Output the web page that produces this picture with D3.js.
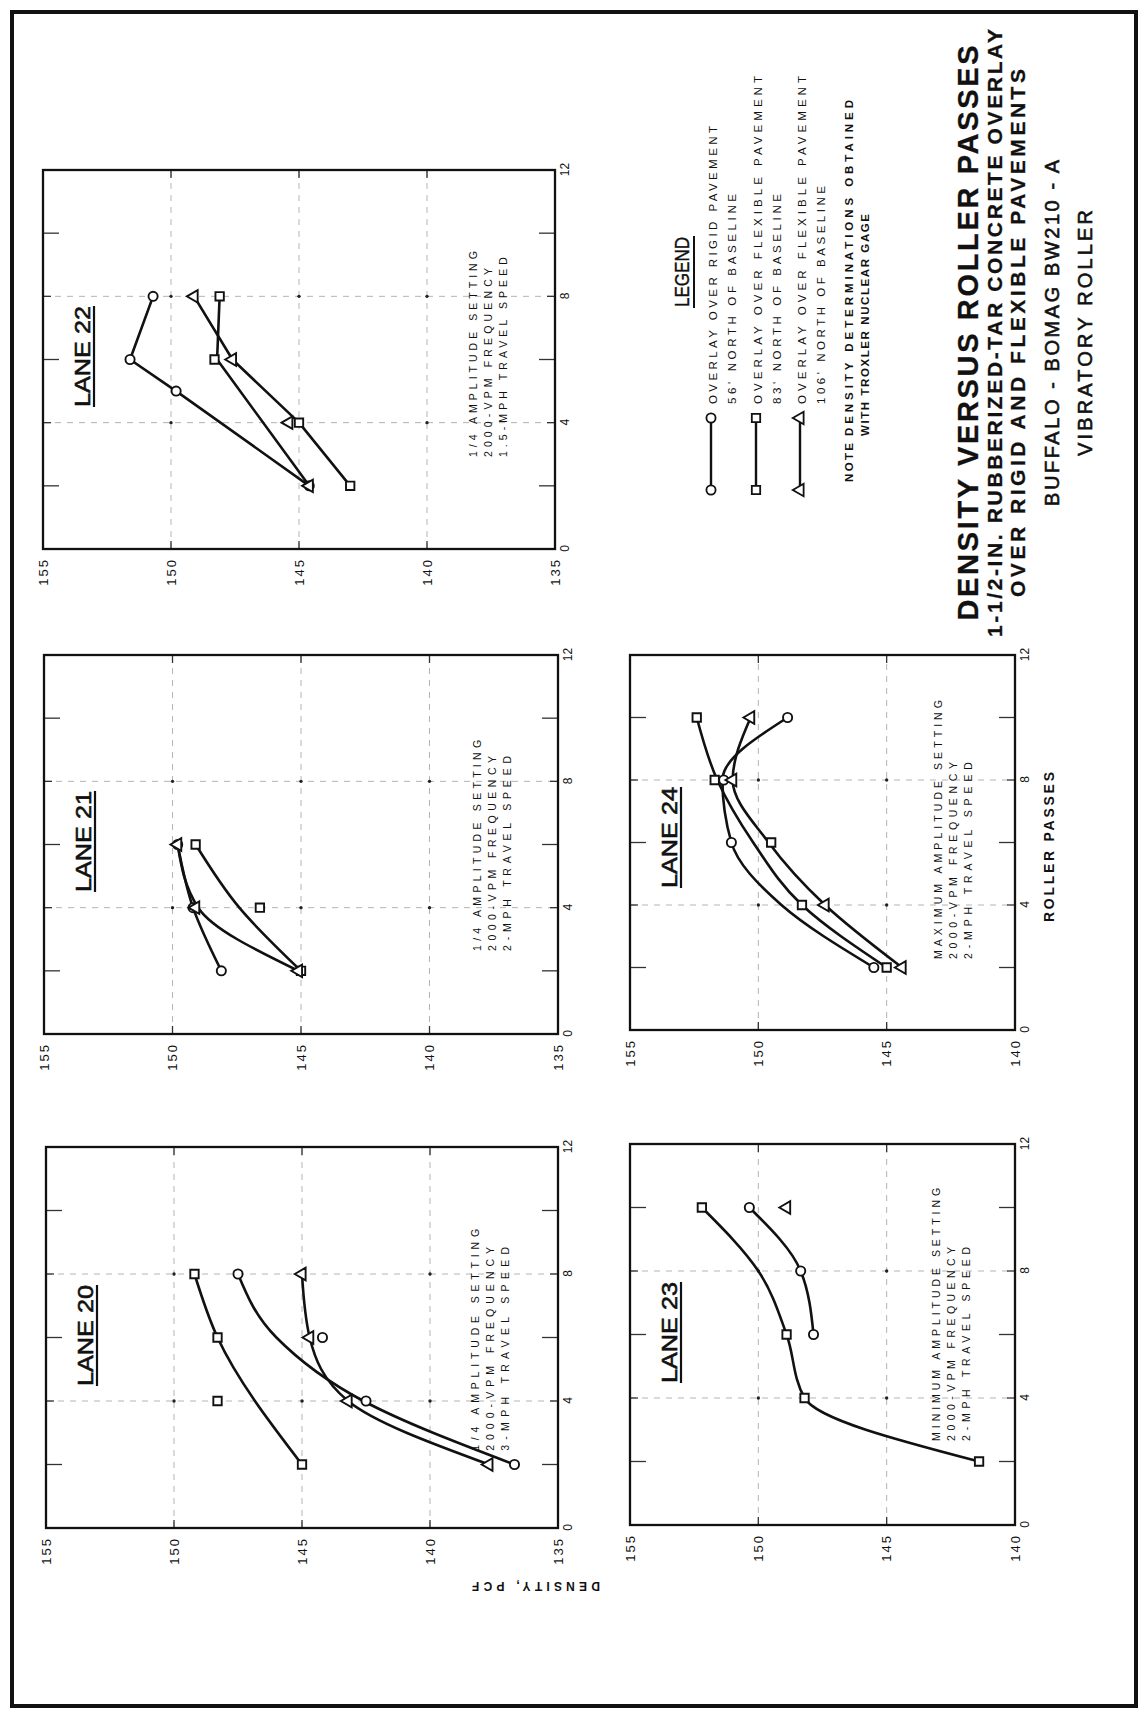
<!DOCTYPE html>
<html>
<head>
<meta charset="utf-8">
<script src="https://cdn.jsdelivr.net/npm/d3@7"></script>
<style>
  body { margin: 0; background: #fff; }
  svg { display: block; }
  text { font-family: "Liberation Sans", Arial, sans-serif; fill: #111; }
</style>
</head>
<body>
<div id="chart"></div>
<script>
var W = 1148, H = 1720;

// ---- data (roller passes, density pcf) ----
var passTicks = [0, 4, 8, 12];
var minorPasses = [2, 6, 10];
var gridPasses = [4, 8];
var densTicksTop = [155, 150, 145, 140, 135];
var densTicksBottom = [155, 150, 145, 140];

var lane20Rigid = [[2, 136.7], [4, 142.5], [6, 144.2], [8, 147.5]];
var lane20Flex83 = [[2, 145.0], [4, 148.3], [6, 148.3], [8, 149.2]];
var lane20Flex106 = [[2, 137.7], [4, 143.2], [6, 144.7], [8, 145.0]];
var lane20Curves = [
  [[2, 136.7], [4, 142.6], [6, 146.0], [8, 147.5]],
  [[2, 137.7], [4, 143.2], [6, 144.7], [8, 145.0]],
  [[2, 145.0], [6, 148.3], [8, 149.2]]
];

var lane21Rigid = [[2, 148.1], [4, 149.2], [6, 149.8]];
var lane21Flex83 = [[2, 145.0], [4, 146.6], [6, 149.1]];
var lane21Flex106 = [[2, 145.1], [4, 149.1], [6, 149.8]];
var lane21Curves = [
  [[2, 148.1], [4, 149.2], [6, 149.8]],
  [[2, 145.1], [4, 149.0], [6, 149.8]],
  [[2, 145.0], [4, 147.4], [6, 149.1]]
];

var lane22Rigid = [[2, 144.6], [5, 149.8], [6, 151.6], [8, 150.7]];
var lane22Flex83 = [[2, 143.0], [4, 145.0], [6, 148.3], [8, 148.1]];
var lane22Flex106 = [[2, 144.6], [4, 145.4], [6, 147.6], [8, 149.1]];
var lane22Curves = [
  [[2, 144.6], [5, 149.8], [6, 151.6], [8, 150.7]],
  [[2, 144.6], [6, 148.2], [8, 148.1]],
  [[2, 143.0], [4, 145.0], [6, 147.6], [8, 149.1]]
];

var lane23Rigid = [[6, 147.85], [8, 148.35], [10, 150.35]];
var lane23Flex83 = [[2, 141.4], [4, 148.2], [6, 148.9], [10, 152.2]];
var lane23Flex106 = [[10, 148.9]];
var lane23Curves = [
  [[6, 147.85], [8, 148.35], [10, 150.35]],
  [[2, 141.4], [4, 148.2], [6, 148.9], [8, 150.0], [10, 152.2]]
];

var lane24Rigid = [[2, 145.5], [6, 151.05], [8, 151.35], [10, 148.86]];
var lane24Flex83 = [[2, 145.0], [4, 148.3], [6, 149.5], [8, 151.7], [10, 152.4]];
var lane24Flex106 = [[2, 144.4], [4, 147.4], [8, 151.0], [10, 150.3]];
var lane24Curves = [
  [[2, 145.5], [4, 149.1], [6, 151.05], [8, 151.4], [10, 148.86]],
  [[2, 145.0], [4, 148.3], [6, 150.2], [8, 151.6], [10, 152.4]],
  [[2, 144.4], [4, 147.4], [6, 149.6], [8, 151.0], [10, 150.3]]
];

var lane20Notes = ["1/4 AMPLITUDE SETTING", "2000-VPM FREQUENCY", "3-MPH TRAVEL SPEED"];
var lane21Notes = ["1/4 AMPLITUDE SETTING", "2000-VPM FREQUENCY", "2-MPH TRAVEL SPEED"];
var lane22Notes = ["1/4 AMPLITUDE SETTING", "2000-VPM FREQUENCY", "1.5-MPH TRAVEL SPEED"];
var lane23Notes = ["MINIMUM AMPLITUDE SETTING", "2000-VPM FREQUENCY", "2-MPH TRAVEL SPEED"];
var lane24Notes = ["MAXIMUM AMPLITUDE SETTING", "2000-VPM FREQUENCY", "2-MPH TRAVEL SPEED"];

// panel boxes are in landscape coords (page is drawn sideways, then turned)
var panels = [
  {name: "LANE 20", X: [192, 573], Y: [46, 558], ticks: densTicksTop, rigid: lane20Rigid, f83: lane20Flex83, f106: lane20Flex106, curves: lane20Curves, smooth: true, notes: lane20Notes, noteAt: [2.43, 138.1], noteLen: [222, 204, 204]},
  {name: "LANE 21", X: [686, 1065], Y: [44, 558], ticks: densTicksTop, rigid: lane21Rigid, f83: lane21Flex83, f106: lane21Flex106, curves: lane21Curves, smooth: true, notes: lane21Notes, noteAt: [2.63, 138.0], noteLen: [211, 195, 195]},
  {name: "LANE 22", X: [1171, 1550], Y: [43, 555], ticks: densTicksTop, rigid: lane22Rigid, f83: lane22Flex83, f106: lane22Flex106, curves: lane22Curves, smooth: false, notes: lane22Notes, noteAt: [2.91, 138.05], noteLen: [206, 189, 200]},
  {name: "LANE 23", X: [195, 576], Y: [630, 1015], ticks: densTicksBottom, rigid: lane23Rigid, f83: lane23Flex83, f106: lane23Flex106, curves: lane23Curves, smooth: true, notes: lane23Notes, noteAt: [2.65, 142.92], noteLen: [253, 194, 194]},
  {name: "LANE 24", X: [690, 1065], Y: [630, 1015], ticks: densTicksBottom, rigid: lane24Rigid, f83: lane24Flex83, f106: lane24Flex106, curves: lane24Curves, smooth: true, notes: lane24Notes, noteAt: [2.27, 142.85], noteLen: [259, 197, 197]}
];

var svg = d3.select("#chart").append("svg")
  .attr("width", W)
  .attr("height", H);

svg.append("rect").attr("width", W).attr("height", H).attr("fill", "#fff");
svg.append("rect")
  .attr("x", 12).attr("y", 12)
  .attr("width", 1124).attr("height", 1694)
  .attr("fill", "none")
  .attr("stroke", "#111")
  .attr("stroke-width", 4);

// landscape page: (X, Y) -> screen (Y, H - X)
var page = svg.append("g").attr("transform", "translate(0," + H + ") rotate(-90)");

var symCircle = d3.symbol().type(d3.symbolCircle).size(66);
var symSquare = d3.symbol().type(d3.symbolSquare).size(70);
var symTri = d3.symbol().type(d3.symbolTriangle).size(68);

function drawMarks(g, pts, sym, x, y) {
  g.selectAll(null)
    .data(pts)
    .enter()
    .append("path")
    .attr("d", sym)
    .attr("transform", function (d) { return "translate(" + x(d[0]) + "," + y(d[1]) + ")"; })
    .attr("fill", "#fff")
    .attr("stroke", "#111")
    .attr("stroke-width", 1.9);
}

panels.forEach(function (p) {
  var dmin = p.ticks[p.ticks.length - 1];
  var x = d3.scaleLinear().domain([0, 12]).range(p.X);
  var y = d3.scaleLinear().domain([155, dmin]).range(p.Y);
  var g = page.append("g");
  var innerD = p.ticks.slice(1, -1);

  // faint dashed grid
  g.selectAll(null).data(innerD).enter().append("line")
    .attr("x1", p.X[0]).attr("x2", p.X[1])
    .attr("y1", function (d) { return y(d); }).attr("y2", function (d) { return y(d); })
    .attr("stroke", "#b4b4b4").attr("stroke-width", 1).attr("stroke-dasharray", "6,6");
  g.selectAll(null).data(gridPasses).enter().append("line")
    .attr("x1", function (d) { return x(d); }).attr("x2", function (d) { return x(d); })
    .attr("y1", p.Y[0]).attr("y2", p.Y[1])
    .attr("stroke", "#b4b4b4").attr("stroke-width", 1).attr("stroke-dasharray", "6,6");

  // grid crossings
  var cross = [];
  gridPasses.forEach(function (a) { innerD.forEach(function (b) { cross.push([a, b]); }); });
  g.selectAll(null).data(cross).enter().append("circle")
    .attr("cx", function (d) { return x(d[0]); })
    .attr("cy", function (d) { return y(d[1]); })
    .attr("r", 1.7).attr("fill", "#222");

  // solid stubs at the frame ends of grid lines and minor ticks
  var stubs = [];
  innerD.forEach(function (d) {
    stubs.push([p.X[0], y(d), p.X[0] + 8, y(d)]);
    stubs.push([p.X[1] - 8, y(d), p.X[1], y(d)]);
  });
  gridPasses.forEach(function (d) {
    stubs.push([x(d), p.Y[0], x(d), p.Y[0] + 8]);
    stubs.push([x(d), p.Y[1] - 8, x(d), p.Y[1]]);
  });
  minorPasses.forEach(function (d) {
    stubs.push([x(d), p.Y[0], x(d), p.Y[0] + 16]);
    stubs.push([x(d), p.Y[1] - 16, x(d), p.Y[1]]);
  });
  g.selectAll(null).data(stubs).enter().append("line")
    .attr("x1", function (d) { return d[0]; }).attr("y1", function (d) { return d[1]; })
    .attr("x2", function (d) { return d[2]; }).attr("y2", function (d) { return d[3]; })
    .attr("stroke", "#333").attr("stroke-width", 1.3);

  // frame
  g.append("rect")
    .attr("x", p.X[0]).attr("y", p.Y[0])
    .attr("width", p.X[1] - p.X[0]).attr("height", p.Y[1] - p.Y[0])
    .attr("fill", "none").attr("stroke", "#111").attr("stroke-width", 2.3);

  // axes
  var ax = g.append("g")
    .attr("transform", "translate(0," + p.Y[1] + ")")
    .call(d3.axisBottom(x).tickValues(passTicks).tickSize(0).tickPadding(5));
  ax.select(".domain").remove();
  ax.selectAll("text").attr("font-family", "Liberation Sans, Arial, sans-serif")
    .attr("font-size", 12).attr("fill", "#222");

  var ay = g.append("g")
    .attr("transform", "translate(" + p.X[0] + ",0)")
    .call(d3.axisLeft(y).tickValues(p.ticks).tickSize(0).tickPadding(9));
  ay.select(".domain").remove();
  ay.selectAll("text").attr("font-family", "Liberation Sans, Arial, sans-serif")
    .attr("font-size", 13).attr("letter-spacing", 2).attr("fill", "#222");

  // curves then points
  var line = d3.line()
    .x(function (d) { return x(d[0]); })
    .y(function (d) { return y(d[1]); })
    .curve(p.smooth ? d3.curveMonotoneX : d3.curveLinear);
  g.selectAll(null).data(p.curves).enter().append("path")
    .attr("d", line)
    .attr("fill", "none").attr("stroke", "#111").attr("stroke-width", 2.6)
    .attr("stroke-linejoin", "round");

  drawMarks(g, p.rigid, symCircle, x, y);
  drawMarks(g, p.f83, symSquare, x, y);
  drawMarks(g, p.f106, symTri, x, y);

  // lane label
  var lx = p.X[0] + 142, ly = p.Y[0] + 47;
  g.append("text")
    .attr("x", lx).attr("y", ly)
    .attr("font-size", 22)
    .attr("stroke", "#111").attr("stroke-width", 0.6)
    .attr("textLength", 101).attr("lengthAdjust", "spacingAndGlyphs")
    .text(p.name);
  g.append("line")
    .attr("x1", lx).attr("x2", lx + 101)
    .attr("y1", ly + 4).attr("y2", ly + 4)
    .attr("stroke", "#111").attr("stroke-width", 2.2);

  // test conditions
  g.selectAll(null).data(p.notes).enter().append("text")
    .attr("x", x(p.noteAt[0]))
    .attr("y", function (d, i) { return y(p.noteAt[1]) + i * 15; })
    .attr("font-size", 10.5)
    .attr("fill", "#444")
    .attr("textLength", function (d, i) { return p.noteLen[i]; })
    .attr("lengthAdjust", "spacing")
    .text(function (d) { return d; });
});

// shared axis titles
page.append("text")
  .attr("transform", "translate(138,536) rotate(-90)")
  .attr("text-anchor", "middle")
  .attr("font-size", 12).attr("font-weight", "bold")
  .attr("textLength", 128).attr("lengthAdjust", "spacing")
  .text("DENSITY, PCF");

page.append("text")
  .attr("x", 873).attr("y", 1054)
  .attr("text-anchor", "middle")
  .attr("font-size", 14).attr("font-weight", "bold")
  .attr("textLength", 150).attr("lengthAdjust", "spacing")
  .text("ROLLER PASSES");

// legend
var legendItems = [
  {sym: symCircle, lines: ["OVERLAY OVER RIGID PAVEMENT", "56' NORTH OF BASELINE"], len: [278, 210]},
  {sym: symSquare, lines: ["OVERLAY OVER FLEXIBLE PAVEMENT", "83' NORTH OF BASELINE"], len: [328, 210]},
  {sym: symTri, lines: ["OVERLAY OVER FLEXIBLE PAVEMENT", "106' NORTH OF BASELINE"], len: [328, 218]}
];
var legY = [711, 756, 800];

page.append("text")
  .attr("x", 1448).attr("y", 689)
  .attr("text-anchor", "middle")
  .attr("font-size", 21)
  .attr("stroke", "#111").attr("stroke-width", 0.4)
  .attr("textLength", 70).attr("lengthAdjust", "spacingAndGlyphs")
  .text("LEGEND");
page.append("line")
  .attr("x1", 1412).attr("x2", 1484).attr("y1", 694).attr("y2", 694)
  .attr("stroke", "#111").attr("stroke-width", 2);

legendItems.forEach(function (it, i) {
  var ly = legY[i];
  page.append("line")
    .attr("x1", 1230).attr("x2", 1302).attr("y1", ly).attr("y2", ly)
    .attr("stroke", "#111").attr("stroke-width", 2.4);
  [1230, 1302].forEach(function (lx) {
    page.append("path").attr("d", it.sym)
      .attr("transform", "translate(" + lx + "," + ly + ")")
      .attr("fill", "#fff").attr("stroke", "#111").attr("stroke-width", 1.8);
  });
  it.lines.forEach(function (t, j) {
    page.append("text")
      .attr("x", 1316).attr("y", ly + 6 + j * 19)
      .attr("font-size", 11.5).attr("fill", "#333")
      .attr("textLength", it.len[j]).attr("lengthAdjust", "spacing")
      .text(t);
  });
});

page.append("text")
  .attr("x", 1238).attr("y", 853)
  .attr("font-size", 11.5).attr("font-weight", "bold")
  .attr("textLength", 39).attr("lengthAdjust", "spacing")
  .text("NOTE");
page.append("text")
  .attr("x", 1284).attr("y", 853)
  .attr("font-size", 11.5).attr("font-weight", "bold")
  .attr("textLength", 336).attr("lengthAdjust", "spacing")
  .text("DENSITY DETERMINATIONS OBTAINED");
page.append("text")
  .attr("x", 1284).attr("y", 869)
  .attr("font-size", 11.5).attr("font-weight", "bold")
  .attr("textLength", 222).attr("lengthAdjust", "spacing")
  .text("WITH TROXLER NUCLEAR GAGE");

// title block
var titleLines = [
  {t: "DENSITY VERSUS  ROLLER PASSES", y: 978, size: 29, w: "bold", len: 575},
  {t: "1-1/2-IN. RUBBERIZED-TAR CONCRETE OVERLAY", y: 1002, size: 21, w: "bold", len: 608},
  {t: "OVER RIGID AND FLEXIBLE PAVEMENTS", y: 1025, size: 21, w: "bold", len: 528},
  {t: "BUFFALO - BOMAG  BW210 - A", y: 1059, size: 20, w: "normal", len: 346},
  {t: "VIBRATORY ROLLER", y: 1092, size: 20, w: "normal", len: 246}
];
page.selectAll(null).data(titleLines).enter().append("text")
  .attr("x", 1387)
  .attr("y", function (d) { return d.y; })
  .attr("text-anchor", "middle")
  .attr("font-size", function (d) { return d.size; })
  .attr("font-weight", function (d) { return d.w; })
  .attr("stroke", "#111")
  .attr("stroke-width", function (d) { return d.w === "bold" ? 0.3 : 0.6; })
  .attr("textLength", function (d) { return d.len; })
  .attr("lengthAdjust", "spacing")
  .text(function (d) { return d.t; });
</script>
</body>
</html>
